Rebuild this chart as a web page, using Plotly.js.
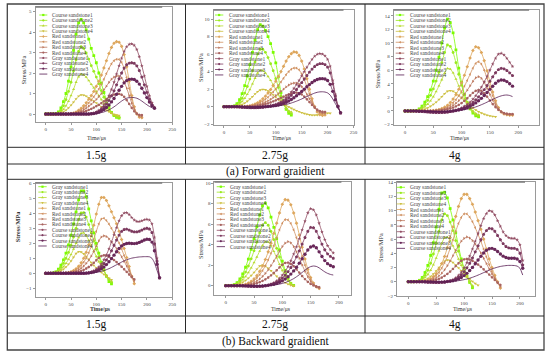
<!DOCTYPE html>
<html><head><meta charset="utf-8">
<script src="https://cdn.plot.ly/plotly-3.0.1.min.js"></script>
<style>html,body{margin:0;padding:0;background:#fff}#chart{width:550px;height:356px}</style>
</head><body><div id="chart"></div>
<script>
// ---------------- DATA ----------------
const time = [0,5,10,15,20,25,30,35,40,45,50,55,60,65,70,75,80,85,90,95,100,105,110,115,120,125,130,135,140,145,150,155,160,165,170,175,180,185,190,195,200,205,210,215,220,225];
const namesForward = ['Course sandstone1','Course sandstone2','Course sandstone3','Course sandstone4','Red sandstone1','Red sandstone2','Red sandstone3','Red sandstone4','Gray sandstone1','Gray sandstone2','Gray sandstone3','Gray sandstone4'];
const namesBackward = ['Gray sandstone1','Gray sandstone2','Gray sandstone3','Gray sandstone4','Red sandstone1','Red sandstone2','Red sandstone3','Red sandstone4','Course sandstone1','Course sandstone2','Course sandstone3','Course sandstone4'];
const accelLabels = ['1.5g','2.75g','4g'];
const captions = ['(a) Forward graidient','(b) Backward graidient'];
const xTitle = 'Time/μs';
const yTitle = 'Stress/MPa';

// (a) Forward, 1.5g
const fa_c1 = [0,0,0,0,0.02,0.1,0.3,0.6,1.0,1.6,2.3,3.1,3.9,4.45,4.62,4.45,4.1,3.65,3.2,2.85,2.5,2.0,1.5,1.05,0.7,0.35,0.08,-0.08,-0.16,-0.2];
const fa_c2 = [0,0,0,0,0.01,0.05,0.18,0.4,0.7,1.1,1.55,2.1,2.65,3.05,3.28,3.2,2.98,2.68,2.36,2.08,1.8,1.48,1.14,0.82,0.52,0.27,0.07,-0.06,-0.13,-0.16];
const fa_c3 = [0,0,0,0,0,0.03,0.1,0.22,0.4,0.62,0.9,1.2,1.55,1.82,1.95,1.91,1.8,1.63,1.45,1.28,1.1,0.9,0.7,0.5,0.33,0.18,0.05,-0.04,-0.09,-0.12];
const fa_c4 = [0,0,0,0,0,0.01,0.05,0.1,0.19,0.3,0.43,0.58,0.74,0.87,0.93,0.92,0.87,0.8,0.71,0.63,0.54,0.45,0.36,0.27,0.19,0.11,0.04,-0.02,-0.05,-0.07];
const fa_r1 = [0,0,0,0,0,0,0,0,0,0,0.02,0.05,0.1,0.18,0.28,0.4,0.55,0.72,0.9,1.1,1.35,1.6,1.9,2.25,2.6,2.95,3.25,3.45,3.53,3.5,3.3,2.9,2.3,1.6,0.9,0.35,0,-0.15,-0.18];
const fa_r2 = [0,0,0,0,0,0,0,0,0,0,0.01,0.03,0.07,0.13,0.2,0.3,0.41,0.54,0.68,0.84,1.02,1.22,1.45,1.7,1.97,2.22,2.45,2.6,2.67,2.66,2.52,2.22,1.78,1.25,0.72,0.3,0.02,-0.12,-0.15];
const fa_r3 = [0,0,0,0,0,0,0,0,0,0,0.01,0.02,0.05,0.09,0.14,0.21,0.29,0.38,0.48,0.59,0.71,0.85,1.0,1.18,1.36,1.54,1.7,1.8,1.85,1.85,1.76,1.56,1.26,0.9,0.53,0.22,0.02,-0.08,-0.1];
const fa_r4 = [0,0,0,0,0,0,0,0,0,0,0,0.01,0.03,0.05,0.08,0.11,0.15,0.2,0.25,0.31,0.38,0.45,0.53,0.62,0.72,0.82,0.9,0.95,0.98,0.98,0.94,0.84,0.68,0.49,0.3,0.13,0.02,-0.04,-0.05];
const fa_g1 = [0,0,0,0,0,0,0,0,0,0,0,0,0,0,0,0,0,0,0.02,0.05,0.1,0.18,0.3,0.45,0.65,0.9,1.2,1.55,1.95,2.35,2.72,3.05,3.28,3.4,3.42,3.35,3.15,2.8,2.35,1.85,1.35,0.9,0.55,0.33];
const fa_g2 = [0,0,0,0,0,0,0,0,0,0,0,0,0,0,0,0,0,0,0.01,0.03,0.07,0.13,0.22,0.33,0.48,0.66,0.88,1.13,1.42,1.72,2.0,2.24,2.4,2.48,2.5,2.47,2.35,2.12,1.8,1.42,1.05,0.72,0.45,0.3];
const fa_g3 = [0,0,0,0,0,0,0,0,0,0,0,0,0,0,0,0,0,0,0.01,0.02,0.05,0.09,0.15,0.22,0.32,0.44,0.59,0.76,0.96,1.16,1.35,1.52,1.63,1.69,1.7,1.68,1.6,1.46,1.26,1.03,0.8,0.58,0.4,0.28];
const fa_g4 = [0,0,0,0,0,0,0,0,0,0,0,0,0,0,0,0,0,0,0,0.01,0.02,0.04,0.07,0.1,0.15,0.2,0.27,0.35,0.44,0.54,0.63,0.71,0.77,0.8,0.81,0.8,0.77,0.71,0.63,0.54,0.45,0.37,0.31,0.28];

// (a) Forward, 2.75g
const fb_c1 = [0,0,0,0.02,0.1,0.35,0.8,1.5,2.4,3.5,4.8,6.2,7.6,8.8,9.35,9.2,8.7,8.0,7.2,6.2,5.0,3.4,1.6,0.4,-0.3,-0.75,-0.95];
const fb_c2 = [0,0,0,0.01,0.05,0.2,0.5,0.95,1.55,2.3,3.15,4.1,5.1,6.0,6.55,6.55,6.2,5.6,4.9,4.1,3.2,2.2,1.2,0.4,-0.2,-0.6,-0.8];
const fb_c3 = [0,0,0,0,0.03,0.12,0.3,0.58,0.95,1.4,1.95,2.6,3.25,3.85,4.15,4.1,3.85,3.45,3.0,2.5,1.95,1.35,0.75,0.25,-0.15,-0.45,-0.6];
const fb_c4 = [0,0,0,0,0.01,0.05,0.13,0.25,0.41,0.62,0.87,1.15,1.45,1.72,1.9,1.97,1.93,1.8,1.6,1.35,1.08,0.8,0.55,0.32,0.13,-0.03,-0.18,-0.32,-0.45,-0.57,-0.68,-0.78,-0.86,-0.92,-0.96,-0.97,-0.95,-0.9,-0.84,-0.78,-0.74,-0.75];
const fb_r1 = [0,0,0,0,0,0,0,0,0.02,0.05,0.1,0.18,0.3,0.45,0.65,0.9,1.2,1.55,1.95,2.4,2.9,3.45,4.0,4.6,5.2,5.7,6.05,6.25,6.2,5.85,5.2,4.3,3.2,2.0,0.9,0,-0.6,-0.9,-1.0,-0.95];
const fb_r2 = [0,0,0,0,0,0,0,0,0.01,0.03,0.07,0.13,0.21,0.32,0.46,0.63,0.84,1.08,1.36,1.68,2.03,2.42,2.82,3.24,3.65,4.0,4.27,4.4,4.4,4.2,3.75,3.1,2.3,1.45,0.65,0,-0.45,-0.7,-0.8,-0.8];
const fb_r3 = [0,0,0,0,0,0,0,0,0.01,0.02,0.04,0.08,0.13,0.2,0.28,0.39,0.52,0.67,0.84,1.04,1.26,1.5,1.75,2.0,2.25,2.46,2.62,2.7,2.7,2.58,2.3,1.9,1.42,0.9,0.4,-0.05,-0.4,-0.6,-0.7,-0.72];
const fb_r4 = [0,0,0,0,0,0,0,0,0,0.01,0.02,0.04,0.07,0.11,0.16,0.22,0.3,0.38,0.48,0.6,0.72,0.86,1.0,1.14,1.28,1.4,1.5,1.57,1.6,1.55,1.4,1.15,0.85,0.52,0.2,-0.1,-0.35,-0.5,-0.58,-0.6];
const fb_g1 = [0,0,0,0,0,0,-0.03,-0.06,-0.09,-0.12,-0.14,-0.15,-0.15,-0.13,-0.1,-0.05,0,0.05,0.1,0.17,0.27,0.4,0.57,0.78,1.03,1.33,1.68,2.08,2.52,3.0,3.5,4.0,4.5,4.95,5.4,5.75,5.98,6.06,6.0,5.8,5.4,4.6,3.0,1.4,0.1,-0.76];
const fb_g2 = [0,0,0,0,0,0,-0.02,-0.05,-0.07,-0.09,-0.11,-0.12,-0.12,-0.1,-0.08,-0.04,0,0.04,0.08,0.13,0.21,0.31,0.44,0.6,0.8,1.03,1.3,1.61,1.96,2.34,2.74,3.15,3.55,3.93,4.28,4.58,4.79,4.9,4.9,4.8,4.5,3.85,2.6,1.2,0.05,-0.7];
const fb_g3 = [0,0,0,0,0,0,-0.02,-0.03,-0.05,-0.06,-0.07,-0.08,-0.08,-0.07,-0.05,-0.03,0,0.02,0.05,0.09,0.14,0.2,0.28,0.38,0.5,0.65,0.82,1.02,1.24,1.48,1.74,2.0,2.27,2.52,2.76,2.96,3.1,3.18,3.2,3.15,2.98,2.55,1.75,0.8,0,-0.7];
const fb_g4 = [0,0,0,0,0,0,-0.01,-0.02,-0.02,-0.03,-0.03,-0.04,-0.04,-0.03,-0.02,-0.01,0,0.01,0.02,0.04,0.07,0.1,0.14,0.19,0.25,0.33,0.42,0.52,0.63,0.75,0.88,1.02,1.16,1.3,1.43,1.55,1.64,1.69,1.7,1.67,1.57,1.32,0.88,0.35,-0.15,-0.65];

// (a) Forward, 4g
const fc_c1 = [0,0,0,0.02,0.1,0.3,0.7,1.3,2.1,3.1,4.4,6.0,7.9,10.0,12.2,13.5,13.0,11.5,9.0,6.3,4.2,2.4,1.1,0.3,-0.3,-0.7,-0.85];
const fc_c2 = [0,0,0,0.01,0.07,0.22,0.5,0.95,1.55,2.3,3.25,4.4,5.7,7.1,8.6,9.7,9.5,8.6,7.1,5.4,3.8,2.4,1.3,0.45,-0.15,-0.55,-0.7];
const fc_c3 = [0,0,0,0.01,0.04,0.14,0.32,0.6,1.0,1.5,2.1,2.85,3.7,4.6,5.55,6.25,6.15,5.6,4.7,3.7,2.7,1.8,1.05,0.45,0,-0.35,-0.55];
const fc_c4 = [0,0,0,0,0.02,0.07,0.15,0.28,0.46,0.69,0.97,1.3,1.68,2.1,2.55,2.9,3.0,2.9,2.65,2.3,1.9,1.5,1.1,0.75,0.42,0.15,-0.1,-0.3,-0.48,-0.62,-0.72,-0.8,-0.85];
const fc_r1 = [0,0,0,0,0,0,0,0,0,0.02,0.06,0.12,0.22,0.36,0.56,0.85,1.25,1.75,2.4,3.2,4.15,5.25,6.5,7.8,8.9,9.45,9.3,8.6,7.4,5.9,4.3,2.8,1.5,0.5,-0.15,-0.45,-0.55,-0.6,-0.6];
const fc_r2 = [0,0,0,0,0,0,0,0,0,0.01,0.04,0.09,0.16,0.26,0.4,0.6,0.87,1.22,1.67,2.22,2.88,3.65,4.5,5.4,6.3,7.0,7.25,6.9,6.0,4.8,3.5,2.25,1.2,0.4,-0.15,-0.4,-0.5,-0.55,-0.55];
const fc_r3 = [0,0,0,0,0,0,0,0,0,0.01,0.03,0.06,0.11,0.18,0.28,0.42,0.6,0.84,1.14,1.51,1.96,2.48,3.06,3.7,4.35,4.88,5.05,4.8,4.2,3.35,2.45,1.6,0.88,0.3,-0.1,-0.35,-0.45,-0.5,-0.5];
const fc_r4 = [0,0,0,0,0,0,0,0,0,0,0.02,0.04,0.07,0.11,0.17,0.25,0.36,0.5,0.68,0.9,1.17,1.5,1.87,2.28,2.67,2.97,3.1,2.97,2.6,2.1,1.55,1.02,0.56,0.18,-0.1,-0.3,-0.4,-0.45,-0.45];
const fc_g1 = [0,0,0,0,-0.02,-0.05,-0.08,-0.12,-0.16,-0.2,-0.23,-0.25,-0.26,-0.25,-0.22,-0.17,-0.1,0,0.12,0.28,0.47,0.7,0.98,1.32,1.74,2.24,2.83,3.5,4.27,5.1,6.0,6.9,7.75,8.35,8.48,8.25,7.75,7.15,6.55];
const fc_g2 = [0,0,0,0,-0.02,-0.04,-0.07,-0.1,-0.13,-0.16,-0.18,-0.2,-0.21,-0.2,-0.18,-0.14,-0.08,0,0.09,0.2,0.34,0.51,0.71,0.96,1.27,1.64,2.07,2.57,3.13,3.74,4.38,5.02,5.62,6.07,6.27,6.2,5.95,5.6,5.2];
const fc_g3 = [0,0,0,0,-0.01,-0.03,-0.05,-0.08,-0.1,-0.12,-0.14,-0.15,-0.16,-0.15,-0.14,-0.11,-0.06,0,0.07,0.15,0.25,0.37,0.52,0.7,0.92,1.19,1.5,1.86,2.27,2.72,3.18,3.64,4.07,4.4,4.55,4.52,4.32,4.0,3.65];
const fc_g4 = [0,0,0,0,-0.01,-0.02,-0.03,-0.04,-0.05,-0.06,-0.07,-0.08,-0.08,-0.08,-0.07,-0.05,-0.03,0,0.04,0.08,0.13,0.19,0.27,0.36,0.47,0.6,0.75,0.92,1.1,1.3,1.5,1.7,1.9,2.08,2.22,2.32,2.35,2.28,2.12];

// (b) Backward, 1.5g
const ba_g1 = [0,0,0,0.02,0.1,0.28,0.55,0.9,1.35,1.9,2.55,3.3,4.1,4.9,5.5,5.5,5.1,4.3,3.5,2.7,2.0,1.35,0.75,0.25,-0.2,-0.55,-0.7];
const ba_g2 = [0,0,0,0.01,0.07,0.2,0.4,0.66,0.99,1.39,1.87,2.42,3.0,3.59,4.02,4.05,3.75,3.25,2.7,2.15,1.6,1.1,0.62,0.2,-0.15,-0.45,-0.6];
const ba_g3 = [0,0,0,0.01,0.05,0.13,0.26,0.44,0.66,0.93,1.25,1.61,2.0,2.38,2.66,2.7,2.52,2.2,1.85,1.48,1.12,0.77,0.44,0.13,-0.13,-0.35,-0.5];
const ba_g4 = [0,0,0,0,0.03,0.08,0.16,0.27,0.42,0.6,0.82,1.07,1.32,1.44,1.42,1.3,1.12,0.92,0.72,0.53,0.36,0.2,0.06,-0.07,-0.2,-0.32,-0.42];
const ba_r1 = [0,0,0,0,0,0,0,0,0.02,0.05,0.1,0.18,0.3,0.47,0.7,1.0,1.4,1.9,2.5,3.2,3.95,4.6,5.05,5.05,4.85,4.5,4.1,3.7,3.3,2.8,2.25,1.65,1.05,0.45,-0.2,-0.7];
const ba_r2 = [0,0,0,0,0,0,0,0,0.01,0.04,0.08,0.14,0.23,0.35,0.52,0.74,1.02,1.37,1.79,2.27,2.8,3.3,3.62,3.67,3.52,3.28,3.0,2.7,2.38,2.02,1.62,1.18,0.72,0.26,-0.2,-0.55];
const ba_r3 = [0,0,0,0,0,0,0,0,0.01,0.03,0.05,0.09,0.15,0.23,0.34,0.48,0.66,0.88,1.15,1.46,1.81,2.16,2.42,2.5,2.45,2.3,2.1,1.88,1.64,1.38,1.1,0.8,0.48,0.15,-0.18,-0.45];
const ba_r4 = [0,0,0,0,0,0,0,0,0,0.01,0.02,0.04,0.07,0.11,0.16,0.23,0.32,0.42,0.55,0.7,0.87,1.03,1.15,1.2,1.18,1.1,1.0,0.88,0.75,0.6,0.44,0.27,0.1,-0.08,-0.25,-0.4];
const ba_c1 = [0,0,0,0,0,0,0,0,0,0,0,0,0,0,0,0,0.02,0.05,0.1,0.17,0.28,0.43,0.63,0.9,1.23,1.63,2.08,2.57,3.05,3.5,3.84,4.02,4.04,3.92,3.72,3.55,3.46,3.45,3.5,3.57,3.6,3.55,3.3,2.4,1.0,-0.3];
const ba_c2 = [0,0,0,0,0,0,0,0,0,0,0,0,0,0,0,0,0.01,0.04,0.07,0.12,0.2,0.31,0.46,0.65,0.89,1.18,1.5,1.86,2.21,2.54,2.79,2.92,2.94,2.88,2.8,2.76,2.76,2.8,2.88,2.96,3.0,2.95,2.72,1.95,0.8,-0.3];
const ba_c3 = [0,0,0,0,0,0,0,0,0,0,0,0,0,0,0,0,0.01,0.02,0.05,0.08,0.13,0.2,0.3,0.42,0.58,0.77,0.98,1.21,1.44,1.65,1.82,1.93,1.99,2.0,1.99,1.98,2.0,2.06,2.14,2.22,2.27,2.25,2.08,1.5,0.6,-0.3];
const ba_c4 = [0,0,0,0,0,0,0,0,0,0,0,0,0,0,0,0,0,0.01,0.02,0.04,0.06,0.09,0.13,0.18,0.24,0.31,0.39,0.48,0.57,0.66,0.75,0.83,0.9,0.96,1.01,1.04,1.07,1.09,1.1,1.11,1.11,1.1,1.0,0.7,0.2,-0.3];

// (b) Backward, 2.75g
const bb_g1 = [0,0,0.02,0.1,0.3,0.65,1.15,1.8,2.6,3.55,4.6,5.75,6.9,7.8,8.05,7.6,6.7,5.7,4.6,3.5,2.4,1.5,0.75,0.2,0.02];
const bb_g2 = [0,0,0.01,0.07,0.22,0.48,0.85,1.33,1.92,2.62,3.4,4.25,5.15,5.9,6.15,5.9,5.3,4.5,3.65,2.8,2.0,1.3,0.7,0.25,0];
const bb_g3 = [0,0,0.01,0.05,0.15,0.32,0.57,0.89,1.28,1.74,2.25,2.8,3.38,3.92,4.28,4.25,3.9,3.35,2.72,2.08,1.48,0.95,0.5,0.15,-0.05];
const bb_g4 = [0,0,0.01,0.03,0.09,0.19,0.33,0.51,0.73,0.99,1.29,1.62,1.92,2.0,1.9,1.7,1.45,1.18,0.92,0.68,0.47,0.29,0.15,0.04,-0.05];
const bb_r1 = [0,0,0,0,0,0.02,0.06,0.13,0.25,0.42,0.66,0.98,1.4,1.92,2.55,3.3,4.15,5.1,6.1,7.1,7.95,8.4,8.35,7.9,7.1,6.1,4.95,3.75,2.6,1.6,0.8,0.25,-0.1,-0.28];
const bb_r2 = [0,0,0,0,0,0.01,0.04,0.1,0.19,0.32,0.5,0.75,1.07,1.47,1.95,2.52,3.17,3.9,4.68,5.45,6.1,6.45,6.42,6.07,5.45,4.68,3.8,2.88,2.0,1.23,0.6,0.15,-0.12,-0.25];
const bb_r3 = [0,0,0,0,0,0.01,0.03,0.06,0.12,0.2,0.31,0.46,0.66,0.9,1.2,1.55,1.95,2.4,2.88,3.37,3.82,4.15,4.3,4.18,3.82,3.3,2.68,2.03,1.42,0.88,0.43,0.1,-0.1,-0.2];
const bb_r4 = [0,0,0,0,0,0,0.01,0.03,0.06,0.1,0.16,0.24,0.34,0.47,0.62,0.8,1.01,1.25,1.5,1.78,2.05,2.22,2.25,2.13,1.9,1.6,1.27,0.94,0.64,0.38,0.17,0.02,-0.08,-0.15];
const bb_c1 = [0,0,0,0,0,0,-0.02,-0.04,-0.06,-0.08,-0.09,-0.09,-0.08,-0.05,0,0.07,0.17,0.3,0.48,0.72,1.02,1.4,1.87,2.43,3.08,3.8,4.6,5.45,6.3,7.1,7.52,7.4,6.9,6.1,5.25,4.5,3.9,3.5,3.2];
const bb_c2 = [0,0,0,0,0,0,-0.02,-0.03,-0.05,-0.06,-0.07,-0.07,-0.06,-0.04,0,0.05,0.12,0.22,0.35,0.52,0.74,1.02,1.36,1.77,2.25,2.8,3.4,4.05,4.7,5.3,5.68,5.65,5.3,4.7,4.05,3.5,3.1,2.85,2.67];
const bb_c3 = [0,0,0,0,0,0,-0.01,-0.02,-0.03,-0.04,-0.05,-0.05,-0.04,-0.03,0,0.03,0.08,0.14,0.22,0.33,0.47,0.65,0.87,1.13,1.44,1.8,2.2,2.63,3.07,3.48,3.78,3.87,3.7,3.3,2.85,2.45,2.15,1.97,1.85];
const bb_c4 = [0,0,0,0,0,0,0,-0.01,-0.01,-0.02,-0.02,-0.02,-0.02,-0.01,0,0.01,0.03,0.06,0.1,0.15,0.22,0.3,0.41,0.54,0.69,0.87,1.07,1.29,1.52,1.72,1.86,1.92,1.88,1.74,1.54,1.35,1.2,1.1,1.04];

// (b) Backward, 4g
const bc_g1 = [0,0,0,0.05,0.2,0.6,1.3,2.3,3.7,5.5,7.7,10.2,12.5,12.6,11.8,10.3,8.7,6.9,5.0,3.2,1.9,0.8,-0.1,-0.85];
const bc_g2 = [0,0,0,0.03,0.15,0.42,0.9,1.6,2.6,3.9,5.4,7.1,8.7,9.55,9.3,8.4,7.2,5.8,4.3,2.9,1.75,0.8,0,-0.7];
const bc_g3 = [0,0,0,0.02,0.1,0.28,0.58,1.02,1.62,2.4,3.32,4.35,5.4,6.2,6.25,5.8,5.05,4.15,3.2,2.3,1.45,0.7,0.05,-0.55];
const bc_g4 = [0,0,0,0.01,0.05,0.13,0.27,0.47,0.75,1.1,1.52,2.0,2.5,2.9,3.05,2.95,2.7,2.35,1.95,1.55,1.15,0.75,0.38,0.05,-0.25,-0.5];
const bc_r1 = [0,0,0,0,0,0.03,0.1,0.22,0.42,0.72,1.15,1.75,2.55,3.55,4.8,6.2,7.7,9.2,10.6,11.7,12.3,12.3,11.7,10.9,9.8,8.6,7.4,6.0,4.6,3.2,2.0,0.9,0,-0.9];
const bc_r2 = [0,0,0,0,0,0.02,0.07,0.16,0.31,0.54,0.87,1.32,1.92,2.68,3.6,4.7,5.9,7.1,8.2,9.05,9.55,9.55,9.1,8.45,7.6,6.65,5.7,4.6,3.5,2.4,1.45,0.6,-0.1,-0.75];
const bc_r3 = [0,0,0,0,0,0.01,0.05,0.1,0.2,0.34,0.55,0.83,1.2,1.68,2.25,2.92,3.65,4.4,5.1,5.7,6.1,6.3,6.15,5.8,5.3,4.7,4.05,3.3,2.55,1.8,1.1,0.45,-0.15,-0.65];
const bc_r4 = [0,0,0,0,0,0,0.02,0.05,0.1,0.17,0.27,0.41,0.59,0.82,1.1,1.43,1.8,2.2,2.6,2.95,3.15,3.2,3.12,2.95,2.7,2.42,2.1,1.75,1.38,1.0,0.62,0.25,-0.12,-0.45];
const bc_c1 = [0,0,0,0,0,0,-0.03,-0.06,-0.09,-0.11,-0.12,-0.12,-0.1,-0.05,0.05,0.15,0.3,0.55,0.9,1.35,1.95,2.7,3.6,4.6,5.7,6.8,7.9,8.9,9.6,10.0,9.9,9.4,8.6,7.8,7.0,6.5,6.2,6.1,6.1,5.9,5.2,3.0];
const bc_c2 = [0,0,0,0,0,0,-0.02,-0.05,-0.07,-0.08,-0.09,-0.09,-0.07,-0.04,0.04,0.11,0.22,0.4,0.65,0.98,1.4,1.95,2.6,3.35,4.2,5.05,5.9,6.65,7.2,7.5,7.45,7.1,6.5,5.9,5.35,4.95,4.75,4.7,4.7,4.55,4.0,2.35];
const bc_c3 = [0,0,0,0,0,0,-0.01,-0.03,-0.04,-0.05,-0.06,-0.06,-0.05,-0.03,0.02,0.07,0.14,0.25,0.4,0.6,0.86,1.18,1.57,2.02,2.52,3.05,3.57,4.05,4.42,4.65,4.7,4.55,4.25,3.9,3.6,3.4,3.3,3.3,3.3,3.2,2.85,1.9];
const bc_c4 = [0,0,0,0,0,0,0,-0.01,-0.02,-0.02,-0.03,-0.03,-0.02,-0.01,0.01,0.03,0.06,0.1,0.15,0.21,0.29,0.38,0.49,0.62,0.77,0.93,1.1,1.28,1.46,1.63,1.79,1.93,2.05,2.15,2.22,2.27,2.3,2.3,2.28,2.2,1.9,0.94];

// ---------------- STYLE / LAYOUT ----------------
const W = 550, H = 356;
const PX = v => v / W, PY = v => 1 - v / H;
const colors = ['#7CFC00','#9BEA1E','#B7DA30','#CDC042','#DDA65C','#D09262','#BE7B62','#A8635F','#924D63','#7D3A5F','#692859','#551A51'];
const symbols = ['square','circle','triangle-up','triangle-down','diamond','triangle-left','triangle-right','hexagon','star','pentagon','circle',null];
const serif = 'Liberation Serif';

const panels = [
  {series:[fa_c1,fa_c2,fa_c3,fa_c4,fa_r1,fa_r2,fa_r3,fa_r4,fa_g1,fa_g2,fa_g3,fa_g4], names:namesForward,
   box:[35.6,172.2,7,122], xr:[-20,250], yr:[-0.39,5.22], dt:1, leg:[39.3,47.3,50,15,5.37], yt:[22.5,70], xt:[97,138], bold:false},
  {series:[fb_c1,fb_c2,fb_c3,fb_c4,fb_r1,fb_r2,fb_r3,fb_r4,fb_g1,fb_g2,fb_g3,fb_g4], names:namesForward,
   box:[213.6,353.5,10,125], xr:[-20,250], yr:[-2.09,11.03], dt:2, leg:[215,223.3,226.7,15,5.45], yt:[200,68], xt:[281.7,138], bold:false},
  {series:[fc_c1,fc_c2,fc_c3,fc_c4,fc_r1,fc_r2,fc_r3,fc_r4,fc_g1,fc_g2,fc_g3,fc_g4], names:namesForward,
   box:[393.7,539.1,10,125], xr:[-20,237], yr:[-2.06,14.85], dt:2, leg:[395.7,404.3,407.7,15,5.45], yt:[378.3,74], xt:[459.5,138], bold:false},
  {series:[ba_g1,ba_g2,ba_g3,ba_g4,ba_r1,ba_r2,ba_r3,ba_r4,ba_c1,ba_c2,ba_c3,ba_c4], names:namesBackward,
   box:[35.6,172.2,183,297], xr:[-20,250], yr:[-1.58,6.02], dt:1, leg:[38.3,46.7,50,186.7,5.39], yt:[17.3,226], xt:[100,309], bold:true},
  {series:[bb_g1,bb_g2,bb_g3,bb_g4,bb_r1,bb_r2,bb_r3,bb_r4,bb_c1,bb_c2,bb_c3,bb_c4], names:namesBackward,
   box:[214.4,351.4,182,295], xr:[-20,222], yr:[-0.91,10.12], dt:2, leg:[216.7,225,228.3,186.7,5.45], yt:[200,245], xt:[281,309], bold:false},
  {series:[bc_g1,bc_g2,bc_g3,bc_g4,bc_r1,bc_r2,bc_r3,bc_r4,bc_c1,bc_c2,bc_c3,bc_c4], names:namesBackward,
   box:[397.1,535,182,296], xr:[-20,227], yr:[-2.01,14.04], dt:2, leg:[396.7,405,408.3,187.3,5.55], yt:[380,248], xt:[463,309], bold:false}
];

const traces = [];
const layout = {
  width: W, height: H, margin:{l:0,r:0,t:0,b:0}, paper_bgcolor:'#fff', plot_bgcolor:'#fff',
  showlegend:false, shapes:[], annotations:[], font:{family:serif}
};

function symPath(sym, cx, cy, r){
  let pts = [];
  if (sym === 'square') pts = [[cx-r,cy-r],[cx+r,cy-r],[cx+r,cy+r],[cx-r,cy+r]];
  else if (sym === 'triangle-up') pts = [[cx,cy-r*1.25],[cx+r*1.15,cy+r*0.8],[cx-r*1.15,cy+r*0.8]];
  else if (sym === 'triangle-down') pts = [[cx,cy+r*1.25],[cx+r*1.15,cy-r*0.8],[cx-r*1.15,cy-r*0.8]];
  else if (sym === 'diamond') pts = [[cx,cy-r*1.3],[cx+r*1.1,cy],[cx,cy+r*1.3],[cx-r*1.1,cy]];
  else if (sym === 'triangle-left') pts = [[cx-r*1.25,cy],[cx+r*0.8,cy-r*1.15],[cx+r*0.8,cy+r*1.15]];
  else if (sym === 'triangle-right') pts = [[cx+r*1.25,cy],[cx-r*0.8,cy-r*1.15],[cx-r*0.8,cy+r*1.15]];
  else { const n = 8; for (let k=0;k<n;k++){ const a = k*2*Math.PI/n; pts.push([cx+r*Math.cos(a), cy+r*Math.sin(a)]); } }
  return 'M' + pts.map(p => PX(p[0]).toFixed(5) + ',' + PY(p[1]).toFixed(5)).join('L') + 'Z';
}

panels.forEach((p, i) => {
  const k = i === 0 ? '' : String(i+1);
  const [xl, xr, yt, yb] = p.box;
  const axBase = {
    showline:true, mirror:true, linecolor:'#9a9a9a', linewidth:1, showgrid:false, zeroline:false,
    ticks:'outside', ticklen:2, tickwidth:0.6, tickcolor:'#555', automargin:false,
    tickfont:{family:serif, size:5, color:'#444'}
  };
  layout['xaxis'+k] = Object.assign({}, axBase, {domain:[PX(xl), PX(xr)], range:p.xr, dtick:50, tick0:0, anchor:'y'+k});
  layout['yaxis'+k] = Object.assign({}, axBase, {domain:[PY(yb), PY(yt)], range:p.yr, dtick:p.dt, tick0:0, anchor:'x'+k});

  p.series.forEach((s, j) => {
    const sym = symbols[j];
    const tr = {
      type:'scatter', mode: sym ? 'lines+markers' : 'lines', x: time, y: s,
      xaxis:'x'+k, yaxis:'y'+k, name:p.names[j],
      line:{color:colors[j], width:0.8, shape:'spline', smoothing:0.6},
      hoverinfo:'skip'
    };
    if (sym) tr.marker = {symbol:sym, size: (j===9||j===10) ? 3.4 : 2.8, color:colors[j], line:{width:0}};
    traces.push(tr);
  });

  // top frame bar (Origin style)
  layout.shapes.push({type:'line', xref:'paper', yref:'paper', x0:PX(xl), x1:PX(xr-10), y0:PY(yt), y1:PY(yt), line:{color:'#7a7a7a', width:1.6}});

  // legend (drawn manually, compact like the original)
  const [sx0, sx1, tx, ly0, ldy] = p.leg;
  p.names.forEach((nm, j) => {
    const yy = ly0 + j*ldy;
    layout.shapes.push({type:'line', xref:'paper', yref:'paper', x0:PX(sx0), x1:PX(sx1), y0:PY(yy), y1:PY(yy), line:{color:colors[j], width:0.8}});
    if (symbols[j]) {
      layout.shapes.push({type:'path', xref:'paper', yref:'paper', path:symPath(symbols[j], (sx0+sx1)/2, yy, 1.1), fillcolor:colors[j], line:{width:0}});
    }
    layout.annotations.push({xref:'paper', yref:'paper', x:PX(tx), y:PY(yy), xanchor:'left', yanchor:'middle', showarrow:false,
      text:nm, font:{family:serif, size:5.4, color:'#444'}});
  });

  // axis titles
  const tf = {family:serif, size:6.3, color:'#333'};
  layout.annotations.push({xref:'paper', yref:'paper', x:PX(p.yt[0]), y:PY(p.yt[1]), xanchor:'center', yanchor:'middle', showarrow:false,
    textangle:-90, text: p.bold ? '<b>'+yTitle+'</b>' : yTitle, font:tf});
  layout.annotations.push({xref:'paper', yref:'paper', x:PX(p.xt[0]), y:PY(p.xt[1]), xanchor:'center', yanchor:'middle', showarrow:false,
    text: p.bold ? '<b>'+xTitle+'</b>' : xTitle, font:{family:serif, size:5.8, color:'#333'}});
});

// ---------------- TABLE ----------------
const tl = 7.3, tr = 544, tt = 4, tb = 350;
const hLines = [147.3, 164, 179.3, 316, 333];
const colX = [185.5, 365];
const tableLine = {color:'#2a2a2a', width:1};
layout.shapes.push({type:'rect', xref:'paper', yref:'paper', x0:PX(tl), x1:PX(tr), y0:PY(tb), y1:PY(tt), line:{color:'#444', width:1.3}});
hLines.forEach(y => layout.shapes.push({type:'line', xref:'paper', yref:'paper', x0:PX(tl), x1:PX(tr), y0:PY(y), y1:PY(y), line:tableLine}));
colX.forEach(x => {
  layout.shapes.push({type:'line', xref:'paper', yref:'paper', x0:PX(x), x1:PX(x), y0:PY(tt), y1:PY(164), line:tableLine});
  layout.shapes.push({type:'line', xref:'paper', yref:'paper', x0:PX(x), x1:PX(x), y0:PY(179.3), y1:PY(333), line:tableLine});
});
const cellCx = [(tl+colX[0])/2, (colX[0]+colX[1])/2, (colX[1]+tr)/2];
const labelRowsY = [155.8, 324.7];
const captionRowsY = [171.8, 341.7];
labelRowsY.forEach(y => accelLabels.forEach((t, c) => layout.annotations.push({xref:'paper', yref:'paper', x:PX(cellCx[c]), y:PY(y),
  xanchor:'center', yanchor:'middle', showarrow:false, text:t, font:{family:serif, size:11.5, color:'#111'}})));
captions.forEach((t, r) => layout.annotations.push({xref:'paper', yref:'paper', x:PX((tl+tr)/2), y:PY(captionRowsY[r]),
  xanchor:'center', yanchor:'middle', showarrow:false, text:t, font:{family:serif, size:11.5, color:'#111'}}));

Plotly.newPlot('chart', traces, layout, {staticPlot:true, displayModeBar:false});
</script>
</body></html>
